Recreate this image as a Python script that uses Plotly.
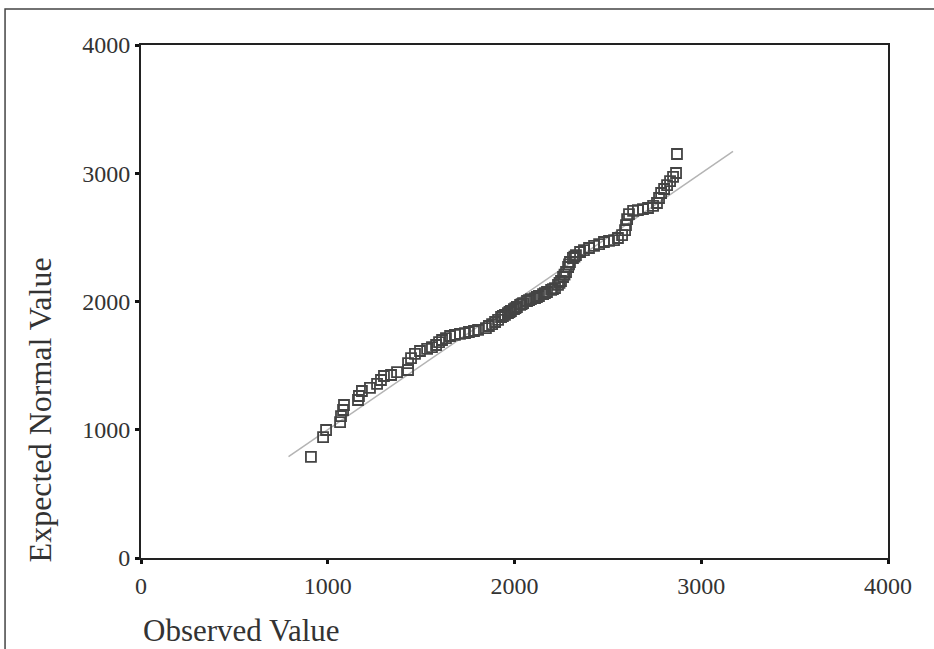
import plotly.graph_objects as go

observed = [910, 975, 991, 1066, 1071, 1082, 1087, 1162, 1167, 1183, 1226, 1264, 1285,
            1301, 1339, 1371, 1430, 1430, 1446, 1467, 1494, 1532, 1558, 1580, 1596, 1612,
            1633, 1655, 1681, 1708, 1735, 1756, 1783, 1805, 1847, 1863, 1880, 1896, 1912,
            1928, 1938, 1949, 1965, 1973, 1981, 1997, 2005, 2013, 2030, 2038, 2046, 2067,
            2078, 2088, 2110, 2120, 2131, 2153, 2163, 2174, 2196, 2206, 2217, 2233, 2241,
            2249, 2260, 2268, 2276, 2287, 2292, 2297, 2313, 2321, 2329, 2351, 2372, 2399,
            2426, 2453, 2479, 2506, 2533, 2554, 2576, 2592, 2597, 2603, 2613, 2635, 2661,
            2688, 2715, 2742, 2763, 2774, 2785, 2801, 2817, 2833, 2849, 2865, 2870]
expected = [788, 943, 998, 1060, 1107, 1154, 1193, 1232, 1263, 1302, 1326, 1357, 1388,
            1419, 1427, 1450, 1466, 1520, 1559, 1591, 1614, 1630, 1645, 1661, 1684, 1700,
            1715, 1731, 1739, 1747, 1754, 1762, 1770, 1778, 1793, 1809, 1824, 1840, 1856,
            1879, 1887, 1895, 1910, 1918, 1926, 1941, 1949, 1957, 1973, 1980, 1988, 2004,
            2011, 2019, 2027, 2035, 2043, 2058, 2066, 2074, 2090, 2097, 2105, 2129, 2145,
            2160, 2191, 2210, 2230, 2269, 2289, 2308, 2339, 2350, 2362, 2386, 2401, 2417,
            2433, 2448, 2464, 2472, 2479, 2495, 2518, 2557, 2596, 2643, 2682, 2706, 2713,
            2721, 2729, 2745, 2768, 2807, 2846, 2877, 2908, 2939, 2971, 3002, 3150]

# Reference line (expected = observed)
line_x = [790, 3170]
line_y = [790, 3170]

tick_vals = [0, 1000, 2000, 3000, 4000]
tick_text = ["0", "1000", "2000", "3000", "4000"]
x_title = "Observed Value"
y_title = "Expected Normal Value"

FONT = "Liberation Serif, Times New Roman, serif"

fig = go.Figure()
fig.add_trace(go.Scatter(x=line_x, y=line_y, mode="lines",
                         line=dict(color="#b4b4b4", width=1.5), hoverinfo="skip"))
fig.add_trace(go.Scatter(x=observed, y=expected, mode="markers",
                         marker=dict(symbol="square-open", size=10, color="#444",
                                     line=dict(width=1.8, color="#444"))))

axis_common = dict(range=[0, 4000], tickmode="array", tickvals=tick_vals, ticktext=tick_text,
                   showgrid=False, zeroline=False, showline=True, mirror=True,
                   linecolor="#222", linewidth=2, ticks="outside", ticklen=4,
                   tickwidth=3, tickcolor="#111",
                   tickfont=dict(family=FONT, size=24, color="#333"))

fig.update_layout(
    width=934, height=649,
    margin=dict(l=141, r=46, t=45, b=91),
    paper_bgcolor="white", plot_bgcolor="white",
    showlegend=False,
    xaxis=dict(**axis_common, ticklabelstandoff=1),
    yaxis=dict(**axis_common, ticklabelstandoff=0),
    annotations=[
        dict(text=x_title, xref="paper", yref="paper", x=0.0, y=-0.142,
             xanchor="left", yanchor="middle", showarrow=False,
             font=dict(family=FONT, size=31, color="#333")),
        dict(text=y_title, xref="paper", yref="paper", x=-0.135, y=0.288,
             xanchor="center", yanchor="middle", showarrow=False, textangle=-90,
             font=dict(family=FONT, size=32, color="#333")),
    ],
    shapes=[
        dict(type="rect", xref="paper", yref="paper", x0=-0.182, y0=-0.35, x1=1.2, y1=1.070,
             line=dict(color="#444", width=1.5), fillcolor="rgba(0,0,0,0)", layer="below"),
    ],
)

fig.write_html("out.html", config={"displayModeBar": False},
               post_script="document.body.style.margin='0px';document.body.style.overflow='hidden';")
